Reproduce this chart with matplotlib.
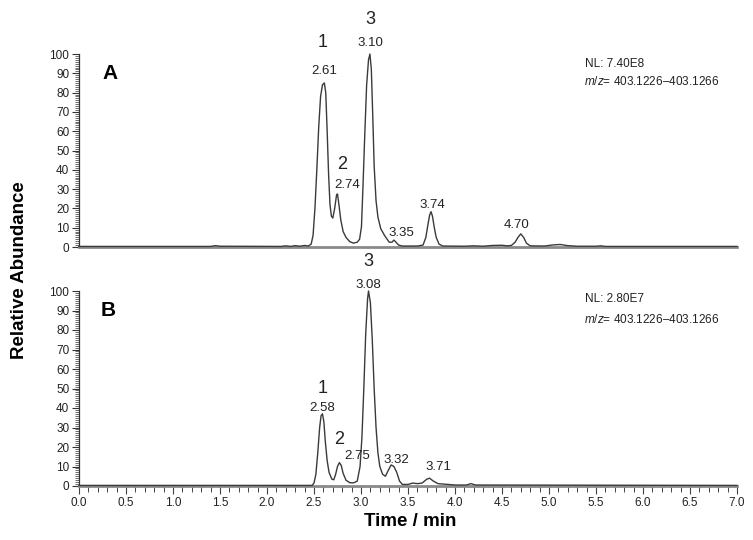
import numpy as np
import matplotlib
matplotlib.use("Agg")
import matplotlib.pyplot as plt
from matplotlib.ticker import MultipleLocator, FormatStrFormatter

plt.rcParams['font.family'] = ['Liberation Sans', 'DejaVu Sans']
plt.rcParams['mathtext.fontset'] = 'custom'
plt.rcParams['mathtext.it'] = 'Liberation Sans:italic'
plt.rcParams['mathtext.rm'] = 'Liberation Sans'

# Хроматограмма A (время, мин / относительная интенсивность, %)
time_a = [0.0, 1.40, 1.45, 1.50, 2.15, 2.20, 2.25, 2.30, 2.35, 2.40, 2.44, 2.47, 2.49, 2.51,
          2.53, 2.55, 2.57, 2.59, 2.61, 2.625, 2.64, 2.655, 2.67, 2.685, 2.70, 2.72, 2.74,
          2.75, 2.765, 2.785, 2.81, 2.84, 2.88, 2.92, 2.96, 2.985, 3.005, 3.02, 3.04, 3.06,
          3.08, 3.095, 3.11, 3.125, 3.14, 3.16, 3.18, 3.21, 3.25, 3.30, 3.33, 3.35, 3.37,
          3.40, 3.44, 3.60, 3.66, 3.69, 3.71, 3.73, 3.745, 3.76, 3.78, 3.80, 3.83, 3.87,
          4.10, 4.20, 4.30, 4.40, 4.50, 4.55, 4.60, 4.64, 4.67, 4.70, 4.73, 4.76, 4.80,
          4.95, 5.05, 5.12, 5.20, 5.30, 5.50, 5.55, 5.60, 7.00]
abund_a = [0.3, 0.3, 0.7, 0.4, 0.3, 0.6, 0.3, 0.7, 0.4, 0.8, 0.5, 1.5, 6, 20,
           40, 62, 78, 84, 85, 80, 60, 38, 22, 16, 15, 20, 27,
           27.5, 22, 14, 8, 5, 2.8, 2, 2.5, 4, 10.5, 30, 58, 84,
           97, 100, 92, 68, 42, 24, 15.5, 9.5, 6, 2.5, 2.5, 3.6, 2.6,
           1.0, 0.5, 0.5, 1, 5, 11, 16.5, 18.3, 16, 10, 5, 1.5, 0.5,
           0.4, 0.6, 0.4, 0.8, 0.9, 0.6, 0.8, 2.5, 5, 6.8, 5, 2, 0.6,
           0.5, 1.1, 1.3, 0.7, 0.4, 0.4, 0.6, 0.3, 0.3]

# Хроматограмма B
time_b = [0.0, 2.48, 2.50, 2.52, 2.54, 2.56, 2.575, 2.59, 2.605, 2.62, 2.64, 2.66, 2.69,
          2.71, 2.73, 2.75, 2.77, 2.79, 2.81, 2.84, 2.88, 2.92, 2.96, 2.99, 3.01, 3.03,
          3.05, 3.07, 3.08, 3.10, 3.12, 3.14, 3.16, 3.18, 3.20, 3.23, 3.26, 3.29, 3.32,
          3.35, 3.38, 3.41, 3.44, 3.50, 3.55, 3.60, 3.65, 3.70, 3.73, 3.77, 3.82, 3.90,
          4.00, 4.12, 4.17, 4.22, 7.00]
abund_b = [0.3, 0.3, 1.5, 6, 17, 30, 36, 37, 33, 23, 13, 7, 3.5,
           3.2, 6, 10, 12, 10.5, 6.5, 3, 1.7, 1.6, 2.5, 10, 25, 50,
           78, 96, 100, 94, 75, 50, 30, 17, 10, 6, 5, 8, 10.8,
           10, 7, 2.5, 0.8, 0.8, 1.5, 1.2, 1.5, 3.5, 4, 2.5, 1.2, 0.9,
           0.5, 0.5, 1.2, 0.5, 0.3]

# Подписи пиков: (время, высота, текст)
rt_a = [(2.61, 91, "2.61"), (2.85, 32, "2.74"), (3.10, 105.5, "3.10"),
        (3.43, 7.5, "3.35"), (3.76, 22, "3.74"), (4.66, 11.5, "4.70")]
cmpd_a = [(2.59, 106, "1"), (2.80, 43, "2"), (3.10, 118, "3")]
rt_b = [(2.59, 40, "2.58"), (2.96, 15.5, "2.75"), (3.08, 103, "3.08"),
        (3.38, 13.5, "3.32"), (3.82, 10, "3.71")]
cmpd_b = [(2.59, 50, "1"), (2.77, 24, "2"), (3.08, 115, "3")]

nl_a = "NL: 7.40E8"
nl_b = "NL: 2.80E7"
mz_text = r"$\it{m/z}$= 403.1226–403.1266"

txt_col = '#222222'
line_col = '#3a3a3a'

fig = plt.figure(figsize=(7.53, 5.40), dpi=100)
ax_a = fig.add_axes([79 / 753, 1 - 247 / 540, 658 / 753, 193 / 540])
ax_b = fig.add_axes([79 / 753, 1 - 486 / 540, 658 / 753, 195 / 540])


def style_axis(ax, show_x):
    ax.set_xlim(0, 7.0)
    ax.set_ylim(0, 100)
    for s in ['top', 'right']:
        ax.spines[s].set_visible(False)
    ax.spines['left'].set_color('#333333')
    ax.spines['left'].set_linewidth(0.9)
    ax.spines['bottom'].set_color('#8a8a8a')
    ax.spines['bottom'].set_linewidth(2.0)
    ax.yaxis.set_major_locator(MultipleLocator(10))
    ax.yaxis.set_minor_locator(MultipleLocator(1))
    ax.tick_params(axis='y', which='major', length=5, width=0.8, color='#333333',
                   labelsize=8.5, labelcolor=txt_col, pad=2)
    ax.tick_params(axis='y', which='minor', length=3, width=0.6, color='#555555')
    if show_x:
        ax.xaxis.set_major_locator(MultipleLocator(0.5))
        ax.xaxis.set_minor_locator(MultipleLocator(0.1))
        ax.xaxis.set_major_formatter(FormatStrFormatter('%.1f'))
        ax.tick_params(axis='x', which='major', length=6, width=0.8, color='#444444',
                       labelsize=8.5, labelcolor=txt_col, pad=2)
        ax.tick_params(axis='x', which='minor', length=4, width=0.7, color='#444444')
    else:
        ax.tick_params(axis='x', which='both', bottom=False, labelbottom=False)


style_axis(ax_a, False)
style_axis(ax_b, True)

ax_a.plot(time_a, abund_a, color=line_col, lw=1.0, clip_on=False, zorder=3)
ax_b.plot(time_b, abund_b, color=line_col, lw=1.0, clip_on=False, zorder=3)

for ax, rts, cmpds in [(ax_a, rt_a, cmpd_a), (ax_b, rt_b, cmpd_b)]:
    for t, v, s in rts:
        ax.text(t, v, s, ha='center', va='center', fontsize=9.5, color=txt_col, clip_on=False)
    for t, v, s in cmpds:
        ax.text(t, v, s, ha='center', va='center', fontsize=13, color=txt_col, clip_on=False)

ax_a.text(0.33, 90, "A", ha='center', va='center', fontsize=15, fontweight='bold', color='black')
ax_b.text(0.31, 90, "B", ha='center', va='center', fontsize=15, fontweight='bold', color='black')

ax_a.text(5.38, 95, nl_a, ha='left', va='center', fontsize=8.5, color=txt_col)
ax_a.text(5.37, 86, mz_text, ha='left', va='center', fontsize=8.5, color=txt_col)
ax_b.text(5.38, 96, nl_b, ha='left', va='center', fontsize=8.5, color=txt_col)
ax_b.text(5.37, 85.5, mz_text, ha='left', va='center', fontsize=8.5, color=txt_col)

fig.text(20 / 753, 1 - 270 / 540, "Relative Abundance", rotation=90, ha='center', va='center',
         fontsize=13.5, fontweight='bold', color='black')
fig.text(410 / 753, 1 - 522 / 540, "Time / min", ha='center', va='center',
         fontsize=13.5, fontweight='bold', color='black')

fig.savefig('out.png', dpi=100)
